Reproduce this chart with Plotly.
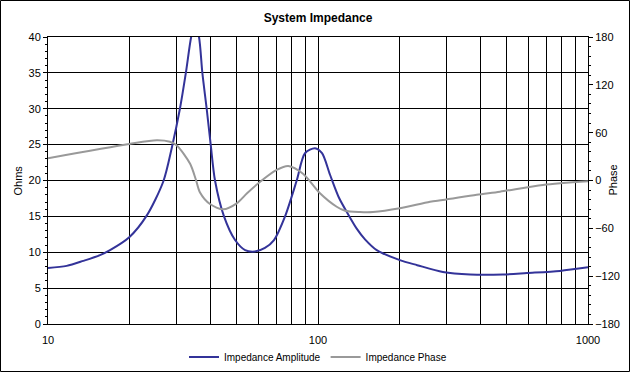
import plotly.graph_objects as go

# ---- data ----
amp_freq = [10.0, 11.73, 13.51, 15.58, 16.97, 20.0, 23.2, 26.75, 28.72, 30.8, 32.4, 33.9, 35.0,
            36.25, 37.3, 38.7, 40.05, 41.55, 44.86, 49.3, 53.7, 58.4, 63.6, 68.7, 75.5, 83.4,
            89.5, 97.5, 103.5, 110.8, 119.6, 130.2, 139.1, 149.3, 165.0, 201.0, 233.0, 290.0, 366.0,
            484.0, 594.0, 787.0, 1000.0]
amp_ohms = [7.8, 8.1, 8.8, 9.6, 10.3, 12.1, 15.1, 19.9, 24.5, 30.0, 35.0, 40.0, 42.0,
            40.0, 35.0, 30.0, 25.0, 20.0, 15.0, 11.7, 10.3, 10.1, 10.6, 11.7, 15.0, 20.0,
            23.8, 24.5, 23.8, 20.8, 17.6, 15.1, 13.3, 11.8, 10.3, 8.9, 8.2, 7.25, 6.9,
            6.9, 7.1, 7.4, 7.9]

phase_freq = [10.0, 20.0, 25.3, 28.3, 30.0, 33.6, 35.3, 36.56, 39.8, 44.6, 50.0, 54.6, 60.1,
              70.3, 77.6, 88.2, 101.7, 117.3, 125.9, 143.0, 159.8, 201.0, 260.0, 290.0,
              387.0, 472.0, 681.0, 1000.0]
phase_deg = [28.0, 45.8, 50.4, 48.5, 44.0, 21.0, 1.0, -15.0, -29.5, -36.2, -28.6, -16.0, -3.5,
             13.2, 18.2, 8.2, -16.0, -32.9, -37.9, -39.5, -39.5, -34.9, -26.6, -24.5,
             -17.8, -14.0, -5.6, -1.0]

x_tickvals = [10, 20, 30, 40, 50, 60, 70, 80, 90, 100, 200, 300, 400, 500, 600, 700, 800, 900, 1000]
x_ticktext = ["10", "", "", "", "", "", "", "", "", "100", "", "", "", "", "", "", "", "", "1000"]

FONT = "Liberation Sans, Arial, sans-serif"

fig = go.Figure()
fig.add_trace(go.Scatter(x=amp_freq, y=amp_ohms, name="Impedance Amplitude", mode="lines",
                         line=dict(color="#333399", width=2, shape="spline", smoothing=0.8)))
fig.add_trace(go.Scatter(x=phase_freq, y=phase_deg, name="Impedance Phase", mode="lines",
                         yaxis="y2",
                         line=dict(color="#999999", width=2, shape="spline", smoothing=0.8)))

W, H = 630, 372
L, R, T, B = 48, 42, 37, 48
pw, ph = W - L - R, H - T - B

fig.update_layout(
    width=W, height=H,
    margin=dict(l=L, r=R, t=T, b=B, pad=0, autoexpand=False),
    paper_bgcolor="white", plot_bgcolor="white",
    font=dict(family=FONT, size=11, color="black"),
    title=dict(text="<b>System Impedance</b>", font=dict(size=12, family=FONT),
               x=0.5, xref="paper", xanchor="center",
               y=1 - 18 / H, yref="container", yanchor="middle"),
    xaxis=dict(type="log", range=[1, 3], tickvals=x_tickvals, ticktext=x_ticktext,
               showgrid=True, gridcolor="black", gridwidth=1, ticks="",
               showline=True, linecolor="black", linewidth=1, mirror=True,
               zeroline=False, tickfont=dict(size=11), ticklabelstandoff=6),
    yaxis=dict(range=[0, 40], dtick=5, showgrid=True, gridcolor="black", gridwidth=1,
               ticks="outside", ticklen=4, tickcolor="black",
               showline=True, linecolor="black", linewidth=1, zeroline=False,
               minor=dict(dtick=1, ticks="outside", ticklen=2, tickcolor="black", showgrid=False),
               tickfont=dict(size=11)),
    yaxis2=dict(range=[-180, 180], dtick=60, overlaying="y", side="right", showgrid=False,
                ticks="outside", ticklen=4, tickcolor="black",
                showline=True, linecolor="black", linewidth=1, zeroline=False,
                minor=dict(dtick=12, ticks="outside", ticklen=2, tickcolor="black", showgrid=False),
                tickfont=dict(size=11)),
    showlegend=True,
    legend=dict(orientation="h", x=0.5, xanchor="center", y=(324 - 357) / ph, yanchor="middle",
                font=dict(size=10, family=FONT), bgcolor="rgba(0,0,0,0)",
                itemwidth=30, tracegroupgap=0),
    annotations=[
        dict(text="Ohms", x=(17 - L) / pw, y=0.5, xref="paper", yref="paper", textangle=-90,
             showarrow=False, font=dict(size=11, family=FONT), xanchor="center", yanchor="middle"),
        dict(text="Phase", x=(612 - L) / pw, y=0.5, xref="paper", yref="paper", textangle=-90,
             showarrow=False, font=dict(size=11, family=FONT), xanchor="center", yanchor="middle"),
    ],
    shapes=[
        dict(type="rect", xref="paper", yref="paper",
             x0=(0.5 - L) / pw, x1=(W - 0.5 - L) / pw,
             y0=(324 - (H - 0.5)) / ph, y1=(324 - 0.5) / ph,
             line=dict(color="black", width=1), fillcolor="rgba(0,0,0,0)", layer="above"),
    ],
)

fig.write_html("out.html", config={"displayModeBar": False},
               post_script="document.body.style.margin='0px';document.body.style.overflow='hidden';")
